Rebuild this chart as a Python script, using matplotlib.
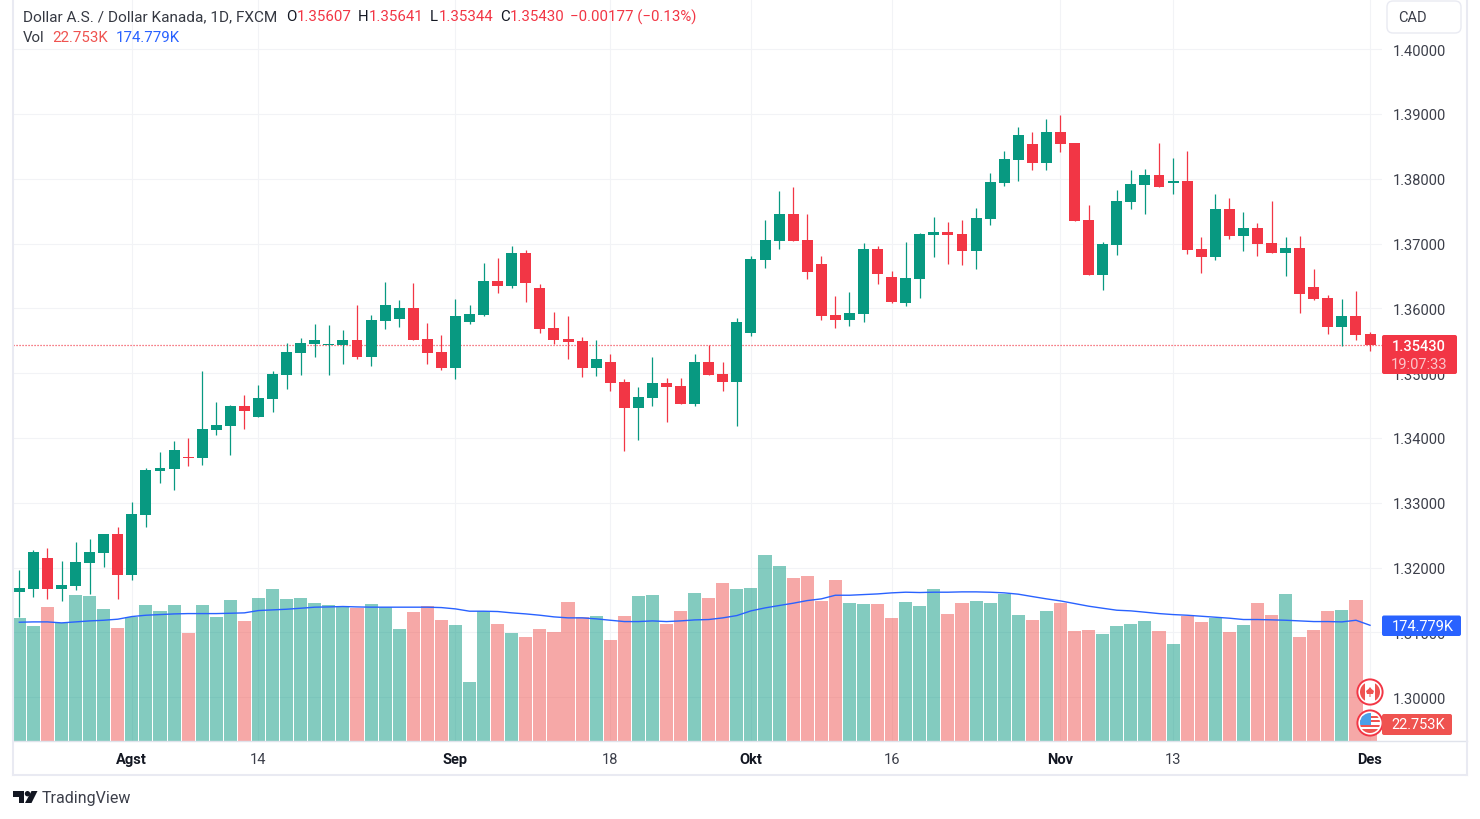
import matplotlib
matplotlib.use("Agg")
import matplotlib.pyplot as plt
from matplotlib.patches import Circle, FancyBboxPatch, Polygon, Rectangle

plt.rcParams['font.family'] = ['Roboto', 'DejaVu Sans']

# Daily candles, USD/CAD
opens = [1.31622, 1.31669, 1.32147, 1.31669, 1.31715, 1.32070, 1.32224, 1.32517, 1.31885, 1.32811,
         1.33490, 1.33521, 1.33706, 1.33690, 1.34122, 1.34184, 1.34493, 1.34323, 1.34601, 1.34971,
         1.35311, 1.35450, 1.35434, 1.35434, 1.35511, 1.35249, 1.35805, 1.35835, 1.36005, 1.35527,
         1.35326, 1.35079, 1.35786, 1.35894, 1.36419, 1.36342, 1.36851, 1.36311, 1.35693, 1.35524,
         1.35493, 1.35076, 1.35169, 1.34860, 1.34459, 1.34613, 1.34845, 1.34798, 1.34521, 1.35169,
         1.34984, 1.34860, 1.35616, 1.36743, 1.37036, 1.37453, 1.37051, 1.36681, 1.35894, 1.35817,
         1.35909, 1.36913, 1.36480, 1.36088, 1.36459, 1.37138, 1.37184, 1.37153, 1.36891, 1.37385,
         1.37940, 1.38295, 1.38542, 1.38249, 1.38727, 1.38558, 1.37369, 1.36521, 1.36984, 1.37647,
         1.37909, 1.38064, 1.37940, 1.37971, 1.36922, 1.36798, 1.37539, 1.37122, 1.37246, 1.37014,
         1.36860, 1.36937, 1.36335, 1.36166, 1.35718, 1.35888, 1.35607]
highs = [1.31962, 1.32271, 1.32301, 1.32101, 1.32394, 1.32440, 1.32517, 1.32625, 1.33011, 1.33536,
         1.33783, 1.33953, 1.33999, 1.35033, 1.34555, 1.34508, 1.34663, 1.34817, 1.35033, 1.35465,
         1.35542, 1.35758, 1.35743, 1.35666, 1.36051, 1.35897, 1.36406, 1.36129, 1.36391, 1.35774,
         1.35588, 1.36144, 1.36048, 1.36697, 1.36774, 1.36959, 1.36897, 1.36372, 1.35940, 1.35879,
         1.35555, 1.35508, 1.35292, 1.34906, 1.34783, 1.35246, 1.34922, 1.34922, 1.35292, 1.35431,
         1.35169, 1.35848, 1.36805, 1.37360, 1.37808, 1.37869, 1.37453, 1.36805, 1.36187, 1.36249,
         1.37005, 1.36959, 1.36573, 1.37030, 1.37169, 1.37416, 1.37338, 1.37369, 1.37555, 1.38095,
         1.38434, 1.38805, 1.38727, 1.38928, 1.38990, 1.38558, 1.37601, 1.37030, 1.37832, 1.38141,
         1.38156, 1.38558, 1.38326, 1.38434, 1.37107, 1.37771, 1.37709, 1.37493, 1.37323, 1.37663,
         1.37107, 1.37122, 1.36613, 1.36212, 1.36150, 1.36274, 1.35641]
lows = [1.31237, 1.31545, 1.31514, 1.31484, 1.31653, 1.31592, 1.32008, 1.31514, 1.31808, 1.32625,
        1.33305, 1.33197, 1.33567, 1.33582, 1.34045, 1.33737, 1.34138, 1.34323, 1.34400, 1.34755,
        1.34971, 1.35249, 1.34971, 1.35141, 1.35218, 1.35110, 1.35681, 1.35712, 1.35511, 1.35141,
        1.35048, 1.34909, 1.35755, 1.35879, 1.36234, 1.36311, 1.36095, 1.35616, 1.35447, 1.35215,
        1.34937, 1.34953, 1.34721, 1.33795, 1.33965, 1.34490, 1.34243, 1.34521, 1.34490, 1.34968,
        1.34721, 1.34181, 1.35570, 1.36619, 1.36913, 1.37036, 1.36450, 1.35817, 1.35693, 1.35724,
        1.35786, 1.36372, 1.36079, 1.36042, 1.36166, 1.36798, 1.36690, 1.36675, 1.36613, 1.37292,
        1.37894, 1.37971, 1.38141, 1.38141, 1.38419, 1.37354, 1.36521, 1.36289, 1.36829, 1.37539,
        1.37462, 1.37879, 1.37771, 1.36845, 1.36551, 1.36752, 1.37076, 1.36891, 1.36814, 1.36860,
        1.36505, 1.35934, 1.36135, 1.35610, 1.35420, 1.35518, 1.35344]
closes = [1.31684, 1.32240, 1.31669, 1.31730, 1.32085, 1.32240, 1.32517, 1.31885, 1.32826, 1.33505,
          1.33536, 1.33814, 1.33695, 1.34138, 1.34200, 1.34493, 1.34416, 1.34616, 1.34987, 1.35326,
          1.35465, 1.35511, 1.35450, 1.35511, 1.35249, 1.35820, 1.36051, 1.36005, 1.35511, 1.35311,
          1.35079, 1.35882, 1.35909, 1.36419, 1.36342, 1.36851, 1.36388, 1.35678, 1.35508, 1.35477,
          1.35076, 1.35215, 1.34845, 1.34459, 1.34629, 1.34845, 1.34783, 1.34521, 1.35169, 1.34968,
          1.34860, 1.35786, 1.36758, 1.37051, 1.37453, 1.37036, 1.36558, 1.35879, 1.35817, 1.35925,
          1.36913, 1.36527, 1.36095, 1.36474, 1.37153, 1.37184, 1.37138, 1.36891, 1.37400, 1.37956,
          1.38311, 1.38681, 1.38249, 1.38727, 1.38542, 1.37354, 1.36521, 1.36999, 1.37663, 1.37925,
          1.38064, 1.37879, 1.37971, 1.36906, 1.36798, 1.37539, 1.37122, 1.37246, 1.36999, 1.36860,
          1.36937, 1.36227, 1.36150, 1.35718, 1.35888, 1.35595, 1.35430]

# Volume in thousands, with its moving average
volume = [186.0, 174.3, 203.2, 178.4, 221.3, 219.8, 200.1, 171.3, 187.0, 206.2,
          197.1, 206.2, 163.7, 206.2, 188.0, 213.8, 182.0, 216.8, 230.4, 215.3,
          216.8, 209.2, 206.2, 203.7, 201.6, 207.7, 202.2, 169.8, 195.6, 204.7,
          183.5, 175.9, 89.5, 197.1, 177.4, 163.7, 157.7, 169.8, 165.3, 210.7,
          188.0, 189.5, 153.1, 189.5, 219.8, 221.3, 177.4, 197.1, 224.4, 216.8,
          239.5, 230.4, 232.0, 282.0, 265.3, 247.1, 250.2, 212.2, 244.1, 209.2,
          207.7, 207.7, 186.5, 210.7, 204.7, 230.4, 192.6, 209.2, 212.2, 209.2,
          222.9, 191.0, 183.5, 197.1, 209.2, 166.8, 168.3, 162.2, 174.3, 177.4,
          182.0, 166.8, 147.1, 189.5, 180.4, 186.5, 165.3, 175.9, 209.2, 191.0,
          222.9, 157.7, 168.3, 197.1, 198.6, 213.8, 22.753]
volume_ma = [179.4, 179.9, 179.9, 178.4, 179.9, 181.4, 182.4, 184.0, 188.0, 190.0,
             191.0, 192.0, 192.5, 192.5, 192.5, 193.0, 193.6, 197.1, 198.1, 199.1,
             200.6, 202.2, 202.6, 203.2, 202.6, 202.2, 202.2, 202.2, 202.2, 202.2,
             201.6, 199.6, 196.1, 196.1, 195.6, 193.6, 192.0, 190.0, 187.5, 186.0,
             186.0, 184.5, 182.4, 180.4, 180.4, 181.4, 180.4, 181.4, 182.9, 183.5,
             186.0, 189.5, 196.6, 201.1, 204.7, 208.2, 212.2, 214.8, 220.3, 220.3,
             221.3, 222.3, 223.9, 224.9, 224.4, 224.9, 224.9, 225.4, 225.4, 224.9,
             223.9, 221.9, 218.3, 214.8, 211.7, 207.7, 203.7, 200.6, 197.6, 196.6,
             194.6, 192.5, 191.0, 190.0, 188.5, 187.0, 185.5, 183.5, 183.5, 183.0,
             182.4, 181.4, 180.4, 180.4, 179.9, 182.4, 174.779]

# Time axis labels sit on these candles
tick_index = [8, 17, 31, 42, 52, 62, 74, 82, 96]
tick_labels = ['Agst', '14', 'Sep', '18', 'Okt', '16', 'Nov', '13', 'Des']
month_labels = ['Agst', 'Sep', 'Okt', 'Nov', 'Des']
price_ticks = [1.30, 1.31, 1.32, 1.33, 1.34, 1.35, 1.36, 1.37, 1.38, 1.39, 1.40]

GREEN = '#089981'
RED = '#F23645'
VOL_RED = '#EF5350'
BLUE = '#2962FF'
GRID = '#F2F3F6'
TEXT = '#131722'
AXIS_TEXT = '#3C3F4A'
BORDER = '#E9EAF2'

fig = plt.figure(figsize=(14.8, 8.2), dpi=100, facecolor='white')
rect = [13 / 1480, 78.4 / 820, 1369 / 1480, 741 / 820]

# price pane
ax = fig.add_axes(rect, zorder=1)
ax.set_xlim(-0.448, 96.85)
ax.set_ylim(1.29329, 1.40764)
for side in ax.spines.values():
    side.set_visible(False)
ax.grid(True, color=GRID, linewidth=0.75)
ax.set_axisbelow(True)
ax.set_xticks(tick_index)
ax.set_xticklabels(tick_labels)
ax.yaxis.tick_right()
ax.set_yticks(price_ticks)
ax.set_yticklabels([f'{p:.5f}' for p in price_ticks])
ax.tick_params(axis='y', length=0, pad=8, labelsize=10.5, labelcolor=AXIS_TEXT)
ax.tick_params(axis='x', length=0, pad=8, labelsize=10.5, labelcolor=AXIS_TEXT)
for label in ax.get_xticklabels():
    if label.get_text() in month_labels:
        label.set_fontweight('bold')
        label.set_color(TEXT)

ax.axhline(closes[-1], color=RED, linewidth=0.9, linestyle=(0, (0.9, 1.5)), zorder=1)

for i in range(len(opens)):
    color = GREEN if closes[i] >= opens[i] else RED
    ax.vlines(i, lows[i], highs[i], color=color, linewidth=0.9, zorder=2)
    bottom = min(opens[i], closes[i])
    height = max(abs(closes[i] - opens[i]), 0.00012)
    ax.bar(i, height, bottom=bottom, width=0.78, color=color, linewidth=0, zorder=3)

# volume overlay, same x scale
ax_vol = fig.add_axes(rect, zorder=2, sharex=ax)
ax_vol.patch.set_visible(False)
ax_vol.set_ylim(0, 1123)
ax_vol.axis('off')
for i in range(len(volume)):
    color = GREEN if closes[i] >= opens[i] else VOL_RED
    ax_vol.bar(i, volume[i], width=0.93, color=color, alpha=0.5, linewidth=0)
ax_vol.plot(range(len(volume_ma)), volume_ma, color=BLUE, linewidth=1.0)

# pixel overlay for frame, tags, header and logo
ov = fig.add_axes([0, 0, 1, 1], zorder=3)
ov.set_xlim(0, 1480)
ov.set_ylim(820, 0)
ov.axis('off')
ov.patch.set_visible(False)

ov.plot([13, 13], [0, 776], color=BORDER, linewidth=1.5)
ov.plot([13, 1467], [776, 776], color=BORDER, linewidth=1.5)
ov.plot([1467, 1467], [0, 776], color=BORDER, linewidth=1.5)
ov.plot([13, 1467], [741.5, 741.5], color='#E0E3EB', linewidth=1.0, zorder=1)

ov.add_patch(FancyBboxPatch((1387, 2), 74, 32, boxstyle='round,pad=0,rounding_size=6',
                            facecolor='white', edgecolor=BORDER, linewidth=1.0))
ov.text(1398, 18, 'CAD', fontsize=10.5, color=AXIS_TEXT, va='center')


def tag(x0, x1, y0, y1, color):
    ov.add_patch(FancyBboxPatch((x0, y0), x1 - x0, y1 - y0, boxstyle='round,pad=0,rounding_size=2',
                                facecolor=color, edgecolor='none', zorder=5))


tag(1382, 1457, 336, 375, RED)
ov.text(1419, 347.5, f'{closes[-1]:.5f}', fontsize=10.5, color='white', ha='center', va='center',
        fontweight='medium', zorder=6)
ov.text(1419, 365, '19:07:33', fontsize=10.5, color='#FBC5CA', ha='center', va='center', zorder=6)
tag(1382, 1461, 616.5, 637, BLUE)
ov.text(1423, 627, f'{volume_ma[-1]:.3f}K', fontsize=10.5, color='white', ha='center', va='center',
        zorder=6)

# currency icons
ca_xy = (1370, 693)
us_xy = (1370, 724)
ov.add_patch(Circle(ca_xy, 12.6, facecolor='white', edgecolor=RED, linewidth=1.4, zorder=3))
ca_clip = Circle(ca_xy, 10, transform=ov.transData)
for x in (1359, 1375):
    band = Rectangle((x, 680), 5.5, 26, facecolor=VOL_RED, edgecolor='none', zorder=3)
    ov.add_patch(band)
    band.set_clip_path(ca_clip)
ov.add_patch(Polygon([(1370, 688), (1371.5, 690), (1374, 692), (1373, 695), (1370.5, 695), (1370.5, 698),
                      (1369.5, 698), (1369.5, 695), (1367, 695), (1366, 692), (1368.5, 690)],
                     facecolor=VOL_RED, edgecolor='none', zorder=4))
ov.add_patch(Circle(us_xy, 12.6, facecolor='white', edgecolor=RED, linewidth=1.4, zorder=3))
us_clip = Circle(us_xy, 10, transform=ov.transData)
for y, h in ((716.5, 2), (721, 2), (725.5, 2), (729.5, 5)):
    stripe = Rectangle((1358, y), 24, h, facecolor=VOL_RED, edgecolor='none', zorder=3)
    ov.add_patch(stripe)
    stripe.set_clip_path(us_clip)
canton = Rectangle((1359, 714), 11.5, 11.5, facecolor='#4A9FE8', edgecolor='none', zorder=4)
ov.add_patch(canton)
canton.set_clip_path(us_clip)

tag(1382, 1452, 715, 736, VOL_RED)
ov.text(1418, 725.5, f'{volume[-1]:.3f}K', fontsize=10.5, color='white', ha='center', va='center',
        zorder=6)

# header lines
head = 10.8
ov.text(23, 17, 'Dollar A.S. / Dollar Kanada, 1D, FXCM', fontsize=11.1, color=TEXT, alpha=0.85, va='center')
for x, s, col in [(286, 'O', TEXT), (296.5, f'{opens[-1]:.5f}', RED),
                  (358, 'H', TEXT), (368.5, f'{highs[-1]:.5f}', RED),
                  (430, 'L', TEXT), (438.5, f'{lows[-1]:.5f}', RED),
                  (500, 'C', TEXT), (509.5, f'{closes[-1]:.5f}', RED),
                  (570.5, '\u22120.00177 (\u22120.13%)', RED)]:
    ov.text(x, 17, s, fontsize=head, color=col, va='center')
ov.text(23, 38, 'Vol', fontsize=head, color=TEXT, alpha=0.85, va='center')
ov.text(52, 38, f'{volume[-1]:.3f}K', fontsize=head, color=VOL_RED, va='center')
ov.text(115.5, 38, f'{volume_ma[-1]:.3f}K', fontsize=head, color=BLUE, va='center')

# logo
ov.add_patch(Polygon([(13, 792), (24, 792), (24, 804), (18.5, 804), (18.5, 797.5), (13, 797.5)],
                     facecolor=TEXT, edgecolor='none'))
ov.add_patch(Circle((27.5, 794.7), 2.7, facecolor=TEXT, edgecolor='none'))
ov.add_patch(Polygon([(31.5, 792), (37.5, 792), (31.5, 804), (25, 804)], facecolor=TEXT, edgecolor='none'))
ov.text(42, 799, 'TradingView', fontsize=11.5, color='#3C3F4A', va='center')

fig.savefig('out.png', dpi=100)
